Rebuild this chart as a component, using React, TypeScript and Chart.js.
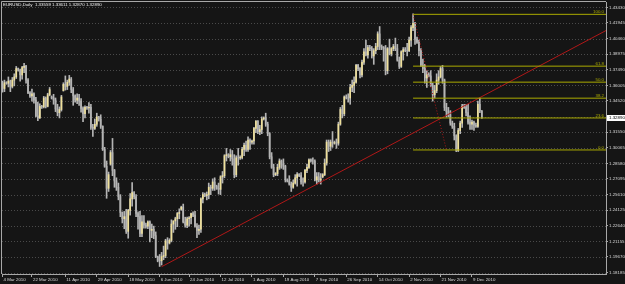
import React, { useEffect, useRef } from 'react';
import { Chart, registerables } from 'chart.js';
Chart.register(...registerables);

// ---- data (EURUSD daily) ----
const opens = [
  1.3610,1.3570,1.3625,1.3620,1.3640,1.3590,1.3650,1.3680,1.3760,1.3745,
  1.3700,1.3770,1.3780,1.3650,1.3530,1.3500,1.3520,1.3460,1.3310,1.3290,
  1.3400,1.3395,1.3480,1.3400,1.3510,1.3490,1.3480,1.3460,1.3375,1.3340,
  1.3370,1.3550,1.3610,1.3590,1.3630,1.3660,1.3560,1.3500,1.3460,1.3480,
  1.3450,1.3380,1.3330,1.3390,1.3385,1.3390,1.3200,1.3190,1.3230,1.3300,
  1.3280,1.3210,1.2990,1.2830,1.2620,1.2850,1.2960,1.2790,1.2690,1.2630,
  1.2540,1.2390,1.2330,1.2350,1.2210,1.2410,1.2520,1.2580,1.2540,1.2380,
  1.2350,1.2190,1.2300,1.2270,1.2260,1.2300,1.2220,1.2230,1.2170,1.1970,
  1.1935,1.1930,1.1970,1.1980,1.2120,1.2100,1.2125,1.2280,1.2310,1.2330,
  1.2380,1.2420,1.2440,1.2300,1.2270,1.2330,1.2340,1.2380,1.2365,1.2260,
  1.2220,1.2230,1.2520,1.2560,1.2550,1.2560,1.2630,1.2620,1.2680,1.2640,
  1.2620,1.2610,1.2730,1.2740,1.2930,1.2940,1.2920,1.2940,1.2900,1.2750,
  1.2910,1.2910,1.2915,1.2990,1.3030,1.2990,1.3080,1.3060,1.3070,1.3190,
  1.3260,1.3160,1.3180,1.3280,1.3290,1.3230,1.3140,1.2920,1.2820,1.2750,
  1.2760,1.2820,1.2880,1.2850,1.2830,1.2700,1.2690,1.2660,1.2630,1.2670,
  1.2720,1.2750,1.2740,1.2680,1.2680,1.2790,1.2820,1.2890,1.2880,1.2880,
  1.2700,1.2730,1.2700,1.2730,1.2750,1.2860,1.3060,1.3020,1.3060,1.3050,
  1.3055,1.3050,1.3230,1.3370,1.3330,1.3490,1.3480,1.3480,1.3580,1.3600,
  1.3630,1.3790,1.3760,1.3700,1.3820,1.3920,1.3890,1.3960,1.3950,1.3880,
  1.3930,1.3970,1.4090,1.3970,1.3960,1.3950,1.3740,1.3950,1.3900,1.3950,
  1.3970,1.3950,1.3840,1.3780,1.3920,1.3940,1.3930,1.3930,1.4030,1.4150,
  1.4190,1.4040,1.4010,1.3930,1.3790,1.3760,1.3670,1.3700,1.3690,1.3600,
  1.3510,1.3550,1.3650,1.3680,1.3760,1.3650,1.3390,1.3350,1.3320,1.3240,
  1.3210,1.3120,1.2980,1.3170,1.3240,1.3400,1.3390,1.3340,1.3250,1.3230,
  1.3250,1.3220,1.3210,1.3420,1.33559,
];
const highs = [
  1.3640,1.3650,1.3635,1.3680,1.3650,1.3675,1.3710,1.3780,1.3765,1.3755,
  1.3780,1.3810,1.3790,1.3665,1.3540,1.3565,1.3530,1.3485,1.3440,1.3425,
  1.3410,1.3495,1.3490,1.3525,1.3580,1.3500,1.3515,1.3480,1.3420,1.3395,
  1.3505,1.3625,1.3690,1.3650,1.3695,1.3675,1.3580,1.3510,1.3520,1.3515,
  1.3475,1.3395,1.3405,1.3400,1.3435,1.3420,1.3230,1.3280,1.3335,1.3305,
  1.3320,1.3215,1.3010,1.2880,1.2775,1.2980,1.3095,1.2800,1.2720,1.2670,
  1.2560,1.2395,1.2400,1.2420,1.2420,1.2570,1.2675,1.2590,1.2560,1.2395,
  1.2400,1.2360,1.2360,1.2290,1.2310,1.2310,1.2280,1.2260,1.2205,1.1975,
  1.1990,1.2010,1.2070,1.2135,1.2150,1.2140,1.2320,1.2310,1.2345,1.2390,
  1.2425,1.2450,1.2470,1.2345,1.2345,1.2350,1.2385,1.2395,1.2400,1.2285,
  1.2270,1.2530,1.2580,1.2575,1.2585,1.2670,1.2650,1.2710,1.2720,1.2650,
  1.2670,1.2740,1.2780,1.2940,1.3000,1.2950,1.2990,1.2980,1.2940,1.2930,
  1.3000,1.2930,1.3010,1.3050,1.3070,1.3110,1.3090,1.3080,1.3200,1.3265,
  1.3265,1.3220,1.3300,1.3300,1.3335,1.3250,1.3150,1.2960,1.2850,1.2770,
  1.2850,1.2900,1.2890,1.2900,1.2840,1.2710,1.2740,1.2680,1.2700,1.2750,
  1.2770,1.2760,1.2770,1.2720,1.2800,1.2850,1.2900,1.2900,1.2910,1.2890,
  1.2770,1.2770,1.2760,1.2760,1.2900,1.3080,1.3080,1.3080,1.3160,1.3070,
  1.3090,1.3250,1.3390,1.3410,1.3500,1.3510,1.3520,1.3610,1.3650,1.3680,
  1.3800,1.3800,1.3770,1.3840,1.3950,1.4030,1.3980,1.3980,1.3970,1.3950,
  1.4000,1.4110,1.4160,1.3985,1.3970,1.3980,1.3960,1.4040,1.3960,1.3990,
  1.4050,1.3990,1.3870,1.3930,1.3960,1.3960,1.4000,1.4060,1.4170,1.4280,
  1.4200,1.4060,1.4030,1.3950,1.3850,1.3800,1.3740,1.3720,1.3740,1.3620,
  1.3600,1.3710,1.3740,1.3780,1.3790,1.3660,1.3430,1.3390,1.3360,1.3260,
  1.3240,1.3130,1.3190,1.3260,1.3420,1.3420,1.3420,1.3420,1.3310,1.3270,
  1.3260,1.3240,1.3450,1.3478,1.33611,
];
const lows = [
  1.3535,1.3540,1.3610,1.3585,1.3540,1.3575,1.3595,1.3665,1.3735,1.3640,
  1.3660,1.3720,1.3620,1.3520,1.3485,1.3450,1.3430,1.3300,1.3265,1.3285,
  1.3380,1.3385,1.3385,1.3395,1.3500,1.3470,1.3420,1.3350,1.3310,1.3290,
  1.3355,1.3545,1.3555,1.3560,1.3600,1.3530,1.3410,1.3440,1.3425,1.3410,
  1.3345,1.3255,1.3290,1.3370,1.3335,1.3180,1.3115,1.3180,1.3210,1.3260,
  1.3190,1.2980,1.2820,1.2525,1.2590,1.2840,1.2740,1.2630,1.2600,1.2510,
  1.2350,1.2290,1.2235,1.2190,1.2145,1.2365,1.2450,1.2520,1.2350,1.2230,
  1.2160,1.2160,1.2240,1.2240,1.2235,1.2110,1.2150,1.2140,1.1960,1.1920,
  1.1876,1.1890,1.1940,1.1960,1.2040,1.2090,1.2110,1.2200,1.2230,1.2255,
  1.2330,1.2410,1.2290,1.2250,1.2245,1.2260,1.2280,1.2350,1.2250,1.2150,
  1.2180,1.2200,1.2480,1.2540,1.2510,1.2520,1.2560,1.2600,1.2600,1.2610,
  1.2565,1.2560,1.2670,1.2720,1.2880,1.2910,1.2880,1.2840,1.2720,1.2730,
  1.2840,1.2895,1.2900,1.2930,1.2970,1.2970,1.2990,1.3040,1.3040,1.3150,
  1.3140,1.3130,1.3140,1.3270,1.3210,1.3120,1.2900,1.2810,1.2730,1.2740,
  1.2740,1.2800,1.2810,1.2800,1.2680,1.2680,1.2650,1.2590,1.2620,1.2660,
  1.2640,1.2730,1.2660,1.2640,1.2670,1.2770,1.2810,1.2870,1.2850,1.2690,
  1.2660,1.2680,1.2660,1.2720,1.2740,1.2840,1.2970,1.2980,1.3010,1.3040,
  1.3000,1.3030,1.3220,1.3290,1.3310,1.3470,1.3440,1.3420,1.3540,1.3530,
  1.3620,1.3740,1.3670,1.3680,1.3800,1.3880,1.3860,1.3930,1.3860,1.3800,
  1.3900,1.3940,1.3940,1.3940,1.3830,1.3700,1.3710,1.3890,1.3880,1.3930,
  1.3930,1.3830,1.3760,1.3770,1.3840,1.3920,1.3880,1.3920,1.3970,1.4120,
  1.3990,1.4000,1.3880,1.3780,1.3720,1.3620,1.3580,1.3680,1.3590,1.3450,
  1.3480,1.3530,1.3610,1.3670,1.3620,1.3360,1.3300,1.3300,1.3220,1.3190,
  1.3080,1.2969,1.2970,1.3140,1.3200,1.3380,1.3310,1.3230,1.3180,1.3180,
  1.3170,1.3200,1.3200,1.3340,1.32870,
];
const closes = [
  1.3570,1.3625,1.3620,1.3640,1.3590,1.3650,1.3680,1.3760,1.3745,1.3700,
  1.3770,1.3780,1.3650,1.3530,1.3500,1.3520,1.3460,1.3310,1.3290,1.3400,
  1.3395,1.3480,1.3400,1.3510,1.3560,1.3480,1.3460,1.3375,1.3340,1.3370,
  1.3490,1.3610,1.3590,1.3630,1.3660,1.3560,1.3500,1.3460,1.3480,1.3450,
  1.3380,1.3330,1.3390,1.3385,1.3390,1.3200,1.3190,1.3230,1.3300,1.3280,
  1.3210,1.2990,1.2830,1.2620,1.2750,1.2960,1.2790,1.2690,1.2630,1.2540,
  1.2390,1.2330,1.2350,1.2210,1.2410,1.2520,1.2580,1.2540,1.2380,1.2350,
  1.2190,1.2300,1.2270,1.2260,1.2300,1.2220,1.2230,1.2170,1.1970,1.1935,
  1.1930,1.1970,1.1980,1.2120,1.2100,1.2125,1.2280,1.2310,1.2330,1.2380,
  1.2390,1.2440,1.2300,1.2270,1.2330,1.2340,1.2380,1.2365,1.2260,1.2220,
  1.2230,1.2520,1.2560,1.2550,1.2560,1.2630,1.2620,1.2680,1.2640,1.2620,
  1.2610,1.2730,1.2740,1.2930,1.2940,1.2920,1.2940,1.2900,1.2750,1.2910,
  1.2910,1.2915,1.2990,1.3030,1.2990,1.3080,1.3060,1.3070,1.3190,1.3260,
  1.3160,1.3180,1.3280,1.3290,1.3230,1.3140,1.2920,1.2820,1.2750,1.2760,
  1.2820,1.2880,1.2850,1.2830,1.2700,1.2690,1.2660,1.2630,1.2670,1.2720,
  1.2750,1.2740,1.2680,1.2680,1.2790,1.2820,1.2890,1.2880,1.2880,1.2700,
  1.2730,1.2700,1.2710,1.2750,1.2860,1.3060,1.3020,1.3060,1.3050,1.3055,
  1.3050,1.3230,1.3370,1.3330,1.3490,1.3480,1.3480,1.3580,1.3600,1.3630,
  1.3790,1.3760,1.3700,1.3820,1.3920,1.3890,1.3960,1.3950,1.3880,1.3930,
  1.3970,1.4090,1.3970,1.3960,1.3950,1.3740,1.3950,1.3900,1.3950,1.3970,
  1.3950,1.3840,1.3780,1.3920,1.3940,1.3930,1.3930,1.4030,1.4150,1.4190,
  1.4040,1.4010,1.3930,1.3790,1.3760,1.3670,1.3700,1.3690,1.3600,1.3510,
  1.3550,1.3650,1.3680,1.3760,1.3650,1.3390,1.3350,1.3320,1.3240,1.3210,
  1.3120,1.2980,1.3170,1.3240,1.3400,1.3390,1.3340,1.3250,1.3230,1.3250,
  1.3220,1.3210,1.3420,1.3356,1.32890,
];

const xTickIdx = [0, 15, 32, 48, 64, 80, 95, 111, 127, 143, 159, 175, 191, 207, 223, 239];
const xTickLabels = [
  '4 Mar 2010', '22 Mar 2010', '11 Apr 2010', '29 Apr 2010', '18 May 2010', '6 Jun 2010',
  '24 Jun 2010', '12 Jul 2010', '1 Aug 2010', '19 Aug 2010', '7 Sep 2010', '26 Sep 2010',
  '14 Oct 2010', '2 Nov 2010', '21 Nov 2010', '9 Dec 2010',
];
const yTickValues = [
  1.18185, 1.19670, 1.21155, 1.22640, 1.24125, 1.25610, 1.27095, 1.28580, 1.30065,
  1.31550, 1.33035, 1.34520, 1.36005, 1.37490, 1.38975, 1.40460, 1.41945, 1.43430,
];
const fibLevels = [0.0, 23.6, 38.2, 50.0, 61.8, 100.0];
const fibLow = 1.2985;
const fibHigh = 1.4276;
const fibHighIdx = 209;
const fibLowIdx = 226;
const trendAnchors = [
  { x: 81.0, y: 1.18737 },
  { x: 307.06, y: 1.41203 },
];
const lastPrice = 1.3289;
const titleText = 'EURUSD,Daily  1.33559 1.33611 1.32870 1.32890';

// ---- styles ----
const BG = '#151515';
const GRID = '#4a4a4a';
const AXIS = '#a8a8a8';
const TXT = '#d8d8d8';
const WICK = '#b4b4b4';
const BULL = '#efe09a';
const FIB = '#aaaa00';
const RED = '#b01818';
const FONT = 'Liberation Sans';
const FS = 4.4;

const X_MIN = -0.25;
const X_MAX = 307.22;
const Y_MIN = 1.18043;
const Y_MAX = 1.43935;

const mtPlugin = {
  id: 'mtDecor',
  beforeDraw(chart: any) {
    const { ctx, width, height } = chart;
    ctx.save();
    ctx.fillStyle = BG;
    ctx.fillRect(0, 0, width, height);
    ctx.restore();
  },
  beforeDatasetsDraw(chart: any) {
    const { ctx, chartArea: ca } = chart;
    const y = chart.scales.y;
    ctx.save();
    ctx.strokeStyle = GRID;
    ctx.lineWidth = 1;
    ctx.setLineDash([1, 2]);
    for (const v of yTickValues) {
      const py = Math.round(y.getPixelForValue(v)) + 0.5;
      if (py < ca.top || py > ca.bottom) continue;
      ctx.beginPath();
      ctx.moveTo(ca.left, py);
      ctx.lineTo(ca.right, py);
      ctx.stroke();
    }
    ctx.restore();
  },
  afterDatasetsDraw(chart: any) {
    const { ctx, chartArea: ca } = chart;
    const y = chart.scales.y;
    ctx.save();
    ctx.font = `${FS}px "${FONT}"`;
    ctx.fillStyle = FIB;
    ctx.textAlign = 'right';
    ctx.textBaseline = 'alphabetic';
    for (const l of fibLevels) {
      const py = y.getPixelForValue(fibLow + ((fibHigh - fibLow) * l) / 100);
      ctx.fillText(l.toFixed(1), ca.right - 2, py - 1);
    }
    ctx.fillStyle = '#f0f0f0';
    ctx.textAlign = 'left';
    ctx.textBaseline = 'middle';
    ctx.fillText(titleText, ca.left + 1, ca.top + 3);
    ctx.restore();
  },
  afterDraw(chart: any) {
    const { ctx, chartArea: ca } = chart;
    const y = chart.scales.y;
    ctx.save();
    ctx.strokeStyle = AXIS;
    ctx.lineWidth = 1;
    ctx.beginPath();
    ctx.moveTo(ca.left - 0.5, ca.bottom);
    ctx.lineTo(ca.left - 0.5, ca.top - 0.5);
    ctx.lineTo(ca.right, ca.top - 0.5);
    ctx.stroke();
    const py = y.getPixelForValue(lastPrice);
    ctx.fillStyle = '#ffffff';
    ctx.fillRect(ca.right + 1, Math.round(py) - 3, chart.width - ca.right - 1, 6);
    ctx.fillStyle = '#000000';
    ctx.font = `${FS}px "${FONT}"`;
    ctx.textAlign = 'left';
    ctx.textBaseline = 'middle';
    ctx.fillText(lastPrice.toFixed(5), ca.right + 3, Math.round(py));
    ctx.restore();
  },
};

export default function App() {
  const ref = useRef<HTMLCanvasElement>(null);
  useEffect(() => {
    document.body.style.margin = '0';
    document.body.style.background = BG;
    const canvas = ref.current;
    if (!canvas) return;
    const idx = closes.map((_, i) => i);
    const wickData = idx.map((i) => ({ x: i, y: [lows[i], highs[i]] }));
    const bodyData = idx.map((i) => ({ x: i, y: [opens[i], closes[i]] }));
    const bodyColors = idx.map((i) => (closes[i] > opens[i] ? BULL : WICK));
    const [a, b] = trendAnchors;
    const slope = (b.y - a.y) / (b.x - a.x);
    const trendData = [
      { x: a.x, y: a.y },
      { x: X_MAX, y: a.y + slope * (X_MAX - a.x) },
    ];
    const fibSets = fibLevels.map((l) => {
      const p = fibLow + ((fibHigh - fibLow) * l) / 100;
      return {
        type: 'line' as const,
        data: [
          { x: fibHighIdx, y: p },
          { x: X_MAX, y: p },
        ],
        borderColor: FIB,
        borderWidth: 1,
        pointRadius: 0,
        order: 0,
      };
    });
    const chart = new Chart(canvas, {
      type: 'bar',
      data: {
        datasets: [
          ...fibSets,
          {
            type: 'line',
            data: [
              { x: fibHighIdx, y: fibHigh },
              { x: fibLowIdx, y: fibLow },
            ],
            borderColor: RED,
            borderWidth: 1,
            borderDash: [1, 2],
            pointRadius: 0,
            order: 0,
          },
          {
            type: 'line',
            data: trendData,
            borderColor: RED,
            borderWidth: 1,
            pointRadius: 0,
            order: 0,
          },
          {
            type: 'bar',
            data: bodyData,
            backgroundColor: bodyColors,
            barThickness: 1,
            grouped: false,
            order: 1,
          },
          {
            type: 'bar',
            data: wickData,
            backgroundColor: WICK,
            barThickness: 1,
            grouped: false,
            order: 2,
          },
        ] as any,
      },
      options: {
        animation: false,
        responsive: false,
        devicePixelRatio: 1,
        events: [],
        layout: { padding: { left: 2, top: 2, right: 0, bottom: 0 } },
        plugins: { legend: { display: false }, tooltip: { enabled: false }, title: { display: false } },
        scales: {
          x: {
            type: 'linear',
            min: X_MIN,
            max: X_MAX,
            offset: false,
            afterBuildTicks: (s: any) => {
              s.ticks = xTickIdx.map((v) => ({ value: v }));
            },
            afterFit: (s: any) => {
              s.height = 10;
              s.paddingLeft = 0;
              s.paddingRight = 0;
            },
            ticks: {
              autoSkip: false,
              maxRotation: 0,
              minRotation: 0,
              align: 'start',
              padding: 0,
              labelOffset: 1,
              color: TXT,
              font: { family: FONT, size: FS },
              callback: (_v: any, i: number) => xTickLabels[i],
            },
            grid: { display: true, offset: false, drawOnChartArea: false, drawTicks: true, tickLength: 3, color: AXIS },
            border: { display: true, color: AXIS, width: 1 },
          },
          y: {
            type: 'linear',
            position: 'right',
            min: Y_MIN,
            max: Y_MAX,
            afterBuildTicks: (s: any) => {
              s.ticks = yTickValues.map((v) => ({ value: v }));
            },
            afterFit: (s: any) => {
              s.width = 19;
              s.paddingTop = 0;
              s.paddingBottom = 0;
            },
            ticks: {
              autoSkip: false,
              padding: 1,
              color: TXT,
              font: { family: FONT, size: FS },
              callback: (v: any) => Number(v).toFixed(5),
            },
            grid: { display: true, drawOnChartArea: false, drawTicks: true, tickLength: 2, color: AXIS },
            border: { display: true, color: AXIS, width: 1 },
          },
        },
      } as any,
      plugins: [mtPlugin],
    });
    return () => chart.destroy();
  }, []);
  return <canvas ref={ref} width={625} height={284} style={{ display: 'block', width: 625, height: 284 }} />;
}
